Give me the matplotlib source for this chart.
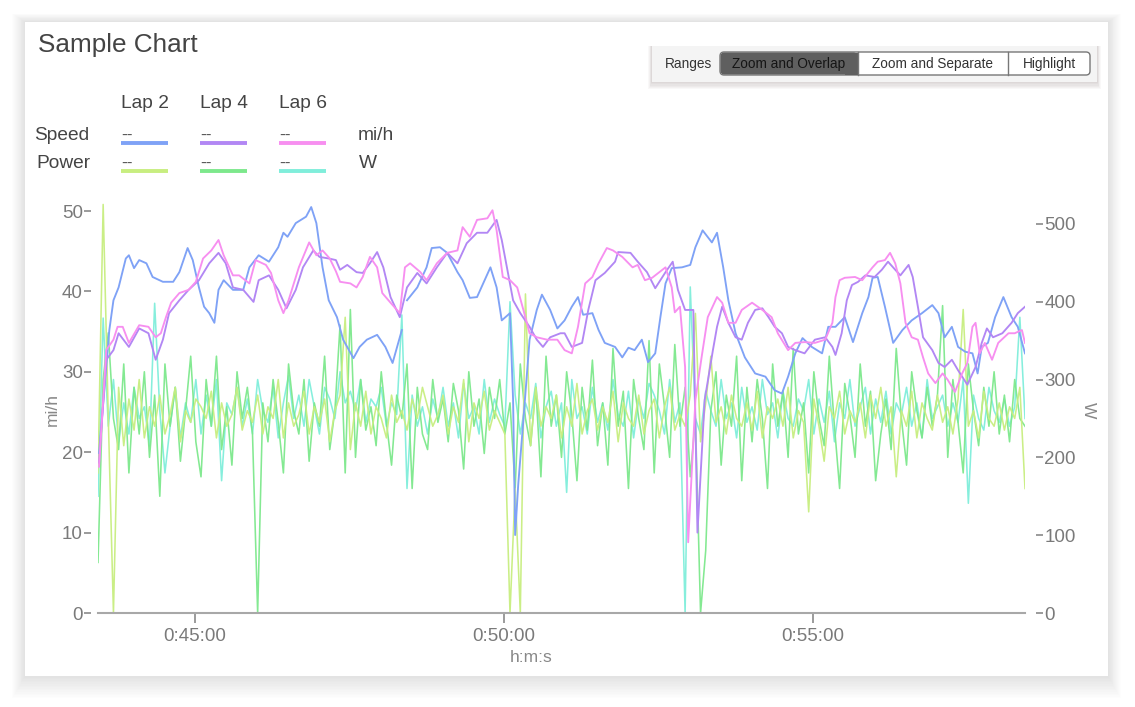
import matplotlib
matplotlib.use("Agg")
import matplotlib.pyplot as plt
import matplotlib.ticker as mticker
from matplotlib.patches import Rectangle, FancyBboxPatch
from matplotlib.lines import Line2D
from matplotlib.transforms import IdentityTransform
import numpy as np

plt.rcParams['font.family'] = ['Liberation Sans', 'DejaVu Sans']

W, H = 1135, 707
nan = np.nan

# laps are overlapped from this point on the h:m:s axis (seconds)
lap_start = 2606
lap_length = 900

laps = ["Lap 2", "Lap 4", "Lap 6"]
speed_colors = ["#7fa2f6", "#b287f4", "#f78ff0"]
power_colors = ["#c8ee80", "#7de88c", "#80eedb"]

# ---- speed (mi/h) with elapsed seconds in lap ----
lap2_speed_t = [1, 8, 11, 15, 20, 27, 30, 35, 40, 47,
                53, 63, 73, 79, 87, 92, 98, 103, 108, 113,
                117, 122, 131, 141, 147, 156, 166, 175, 180, 184,
                192, 202, 207, 212, 218, 224, 232, 238, 248, 254,
                261, 271, 279, 286, 295, 297, 300, 310, 319, 324,
                332, 339, 349, 354, 361, 368, 374, 381, 387, 392,
                400, 403, 405, 408, 412, 419, 426, 431, 439, 446,
                453, 460, 466, 471, 480, 486, 492, 502, 509, 515,
                521, 528, 534, 541, 546, 551, 557, 567, 575, 580,
                587, 596, 601, 607, 612, 619, 628, 638, 648, 657,
                664, 670, 677, 684, 693, 703, 709, 716, 725, 733,
                742, 748, 752, 757, 764, 772, 781, 790, 800, 810,
                816, 822, 829, 835, 842, 849, 854, 858, 864, 871,
                879, 887, 893, 900]
lap2_speed = [19.9, 30.6, 35.2, 38.9, 40.5, 44.1, 44.5, 42.9, 43.9, 43.5,
              41.8, 41.2, 41.2, 42.4, 45.4, 43.9, 40.5, 38.1, 37.3, 36.1,
              40.2, 41.4, 40.2, 40.2, 43.0, 44.5, 43.7, 45.5, 47.3, 46.8,
              48.5, 49.3, 50.5, 48.5, 43.0, 38.9, 36.8, 34.0, 31.7, 33.1,
              34.0, 34.6, 33.1, 31.1, 35.2, nan, 38.9, 40.5, 43.0, 45.4,
              45.5, 44.8, 42.4, 41.4, 39.2, 39.3, 41.0, 43.0, 40.5, 36.4,
              37.3, 26.5, 9.7, 16.0, 22.4, 34.0, 37.7, 39.6, 37.7, 35.4,
              36.4, 38.1, 39.3, 37.1, 37.3, 35.2, 33.6, 33.1, 31.8, 33.0,
              32.7, 34.0, 31.2, 32.3, 36.8, 41.0, 42.9, 43.0, 43.3, 45.5,
              47.6, 46.1, 47.3, 43.0, 38.9, 34.8, 31.8, 29.8, 29.4, 27.7,
              27.3, 29.4, 32.3, 34.2, 33.1, 32.3, 35.6, 35.6, 36.8, 33.7,
              37.3, 39.3, 41.7, 41.8, 38.1, 33.6, 35.2, 36.4, 37.3, 38.3,
              37.3, 34.3, 35.6, 33.1, 32.5, 32.3, 29.8, 33.1, 33.6, 36.8,
              39.3, 36.8, 35.6, 32.3]

lap4_speed_t = [1, 8, 15, 20, 30, 40, 49, 56, 63, 69,
                79, 88, 98, 108, 117, 124, 131, 141, 151, 156,
                166, 175, 183, 192, 199, 209, 215, 224, 231, 235,
                242, 251, 257, 264, 271, 277, 284, 293, 300, 310,
                319, 329, 339, 349, 358, 368, 378, 387, 392, 397,
                403, 410, 419, 426, 432, 439, 449, 453, 460, 470,
                476, 483, 492, 502, 505, 517, 524, 533, 541, 551,
                558, 563, 570, 578, 582, 589, 597, 601, 606, 612,
                619, 625, 631, 638, 645, 651, 657, 664, 670, 677,
                686, 696, 706, 713, 716, 722, 727, 732, 738, 745,
                754, 761, 767, 774, 779, 787, 791, 796, 801, 810,
                816, 822, 829, 835, 844, 852, 858, 863, 869, 878,
                887, 893, 900]
lap4_speed = [18.7, 31.5, 32.7, 34.8, 33.1, 35.4, 34.8, 31.5, 34.0, 37.3,
              38.9, 40.2, 41.4, 43.5, 44.8, 43.5, 40.5, 40.2, 38.7, 41.4,
              42.0, 40.2, 37.9, 40.2, 43.0, 45.1, 44.3, 44.1, 43.9, 42.7,
              43.3, 42.4, 42.3, 43.5, 44.9, 43.0, 39.3, 36.8, 40.5, 42.3,
              41.0, 43.0, 44.8, 43.5, 46.0, 47.3, 47.3, 48.9, 46.4, 43.0,
              38.9, 37.3, 35.6, 34.0, 33.1, 34.3, 34.8, 34.8, 33.1, 33.6,
              37.7, 41.4, 42.3, 43.7, 44.9, 44.8, 43.7, 42.4, 40.4, 42.4,
              43.7, 40.2, 37.7, 37.7, 10.0, 26.5, 32.7, 35.6, 38.1, 36.1,
              34.3, 34.0, 36.1, 37.7, 37.9, 36.8, 35.6, 34.8, 33.1, 32.7,
              32.3, 34.0, 34.3, 33.1, 32.1, 34.8, 38.9, 40.8, 41.2, 42.0,
              41.8, 42.7, 43.7, 42.7, 42.0, 43.3, 41.8, 38.1, 34.3, 32.7,
              31.1, 30.6, 31.5, 30.2, 28.4, 30.6, 33.6, 35.4, 34.3, 34.8,
              36.1, 37.3, 38.1]

lap6_speed_t = [1, 8, 15, 19, 24, 30, 40, 49, 56, 61,
                66, 71, 79, 88, 95, 102, 110, 117, 122, 131,
                137, 147, 153, 163, 168, 175, 180, 185, 195, 205,
                212, 218, 225, 231, 235, 245, 251, 257, 264, 271,
                276, 284, 293, 298, 303, 313, 319, 329, 339, 349,
                354, 361, 368, 378, 383, 387, 393, 400, 407, 413,
                419, 426, 436, 446, 453, 460, 466, 473, 480, 486,
                494, 500, 509, 519, 524, 531, 538, 544, 551, 557,
                560, 565, 570, 573, 580, 586, 592, 601, 606, 612,
                619, 625, 635, 645, 654, 660, 670, 677, 686, 696,
                706, 713, 716, 720, 725, 735, 742, 752, 757, 764,
                769, 774, 779, 784, 790, 796, 801, 806, 813, 820,
                825, 832, 839, 844, 849, 852, 856, 861, 868, 874,
                884, 890, 897, 900]
lap6_speed = [18.2, 32.7, 34.0, 35.6, 35.6, 33.6, 35.8, 35.6, 34.3, 34.8,
              36.8, 38.6, 39.8, 40.2, 41.2, 44.1, 45.1, 46.4, 44.5, 42.0,
              42.0, 41.0, 43.9, 43.3, 42.3, 38.9, 37.3, 38.9, 43.0, 46.1,
              44.5, 45.1, 44.1, 42.5, 41.2, 41.0, 40.5, 41.8, 44.3, 43.0,
              39.8, 38.6, 37.3, 43.0, 43.5, 42.4, 41.4, 43.5, 44.8, 45.1,
              48.0, 46.8, 48.9, 49.1, 50.1, 47.6, 41.8, 41.4, 40.5, 37.7,
              34.8, 34.3, 34.0, 34.0, 32.7, 32.3, 35.6, 41.0, 41.8, 43.5,
              45.4, 45.1, 44.3, 43.0, 43.3, 41.4, 41.7, 42.3, 43.0, 40.5,
              37.4, 38.1, 30.6, 8.8, 26.5, 31.8, 36.8, 39.3, 38.6, 36.1,
              36.1, 37.7, 38.6, 37.7, 36.8, 34.8, 32.7, 33.6, 33.7, 33.6,
              34.0, 36.1, 39.3, 41.4, 41.7, 41.8, 41.4, 43.0, 43.7, 43.9,
              44.8, 43.5, 41.0, 36.1, 34.3, 34.0, 31.8, 29.8, 28.6, 29.8,
              29.0, 27.5, 29.8, 31.1, 35.6, 36.1, 32.3, 33.6, 31.5, 33.6,
              34.8, 34.8, 35.2, 33.6]

# ---- power (W), one reading every 5 s ----
power_step = 5
lap2_power = [180, 525, 250, 0, 290, 215, 275, 235, 300, 225,
              265, 240, 280, 230, 255, 290, 220, 260, 245, 275,
              265, 250, 285, 225, 270, 240, 255, 290, 235,
              260, 245, 280, 230, 265, 250, 300, 225, 270, 240,
              255, 285, 230, 265, 245, 275, 220, 260, 280, 380,
              210, 270, 240, 285, 230, 265, 250, 225, 280, 245,
              260, 235, 275, 250, 290, 265, 240, 255, 280,
              230, 265, 245, 300, 220, 270, 250, 285, 235, 260,
              245, 230, 0, 160, 0, 410, 215, 290, 240, 265,
              250, 280, 225, 265, 240, 295, 230, 260, 275, 235,
              265, 245, 285, 220, 270, 250, 240, 280, 230, 260,
              275, 225, 265, 290, 235, 255, 240, 280, 385,
              220, 270, 330, 245, 265, 230, 280, 250, 240, 270,
              235, 285, 225, 265, 250, 275, 240, 290, 225, 260,
              245, 130, 275, 240, 195, 265, 250, 285, 230, 260,
              245, 270, 225, 280, 250, 290, 240, 265, 175,
              260, 240, 285, 225, 270, 250, 235, 280, 245, 265,
              230, 275, 390, 240, 260, 225, 285, 250, 240, 270,
              235, 265, 250, 290, 160]
lap4_power = [65, 300, 360, 250, 210, 320, 180, 290, 230, 310,
              200, 280, 150, 320, 240, 290, 195, 260, 330, 220,
              175, 300, 240, 330, 210, 265, 190, 310, 250,
              290, 230, 0, 270, 220, 300, 245, 180, 320, 260,
              230, 300, 195, 270, 240, 330, 210, 260, 370, 180,
              390, 200, 300, 235, 265, 215, 310, 245, 190, 280,
              250, 320, 160, 290, 230, 210, 300, 245, 275,
              220, 295, 260, 185, 310, 240, 275, 205, 290, 250,
              300, 230, 270, 160, 320, 250, 215, 290, 175, 330,
              240, 280, 200, 310, 255, 170, 290, 235, 325, 215,
              270, 190, 340, 240, 285, 160, 300, 250, 210, 350,
              180, 320, 265, 200, 345, 240, 290, 175, 250,
              0, 80, 260, 310, 190, 280, 240, 330, 170, 290,
              220, 300, 250, 160, 320, 240, 285, 200, 340, 230,
              270, 180, 310, 250, 215, 330, 240, 160, 295, 255,
              200, 320, 240, 285, 170, 230, 275, 210, 340,
              250, 190, 310, 260, 225, 290, 240, 280, 395, 200,
              300, 245, 180, 320, 260, 215, 290, 240, 310, 230,
              280, 220, 300, 250, 240]
lap6_power = [150, 379, 240, 300, 220, 270, 230, 290, 250, 265,
              215, 398, 260, 180, 240, 290, 225, 270, 245, 300,
              230, 280, 240, 300, 170, 270, 255, 290, 240,
              275, 230, 300, 260, 245, 290, 225, 270, 305, 250,
              280, 240, 300, 265, 230, 290, 275, 250, 310, 270,
              285, 260, 300, 245, 275, 265, 290, 240, 270, 255,
              383, 160, 280, 240, 265, 230, 275, 250, 290,
              240, 270, 225, 295, 250, 265, 230, 300, 245, 275,
              255, 240, 400, 280, 230, 270, 250, 295, 225, 265,
              285, 240, 270, 155, 300, 250, 265, 230, 290, 245,
              270, 235, 300, 255, 240, 285, 225, 275, 250, 295,
              280, 260, 230, 300, 245, 270, 0, 419, 250,
              230, 285, 260, 240, 300, 250, 270, 225, 290, 245,
              265, 235, 300, 255, 270, 225, 285, 250, 240, 275,
              260, 300, 230, 275, 245, 285, 220, 270, 250, 300,
              240, 265, 290, 230, 275, 245, 285, 230, 270,
              255, 290, 240, 270, 225, 300, 250, 265, 280, 240,
              270, 245, 300, 141, 280, 250, 235, 290, 260, 245,
              275, 240, 265, 380, 250]

speed_t = [lap2_speed_t, lap4_speed_t, lap6_speed_t]
speed_v = [lap2_speed, lap4_speed, lap6_speed]
power_v = [lap2_power, lap4_power, lap6_power]


def hms(x, pos=None):
    x = int(round(x))
    return "%d:%02d:%02d" % (x // 3600, (x % 3600) // 60, x % 60)


fig = plt.figure(figsize=(W / 100, H / 100), dpi=100)
fig.patch.set_facecolor("white")
pix = IdentityTransform()

# card with a soft drop shadow
for k in range(14):
    g = 14 - k
    fig.add_artist(Rectangle((25 - g * 0.9, H - 676 - g * 1.6), 1083 + g * 1.8, 654 + g * 2.2,
                             transform=pix, facecolor="black", alpha=0.0065,
                             edgecolor="none", zorder=-30 + k))
fig.add_artist(Rectangle((25, H - 676), 1083, 654, transform=pix,
                         facecolor="white", edgecolor="none", zorder=-10))

# axes, speed on the left scale, power on the right
ax = fig.add_axes([98 / W, (H - 613) / H, 927 / W, 414 / H])
ax2 = ax.twinx()
ax.set_zorder(ax2.get_zorder() + 1)
ax.patch.set_visible(False)

for i in range(3):
    pt = lap_start + np.arange(len(power_v[i])) * power_step
    ax2.plot(pt, power_v[i], color=power_colors[i], lw=1.15, alpha=0.95,
             zorder=4 - i)
for i in range(3):
    ax.plot(lap_start + np.array(speed_t[i]), speed_v[i], color=speed_colors[i],
            lw=1.35, zorder=3)

ax.set_xlim(lap_start, lap_start + lap_length)
ax.set_ylim(0, 51.5)
ax2.set_ylim(0, 532)
ax.set_yticks([0, 10, 20, 30, 40, 50])
ax2.set_yticks([0, 100, 200, 300, 400, 500])
ax.xaxis.set_major_locator(mticker.MultipleLocator(300))
ax.xaxis.set_major_formatter(mticker.FuncFormatter(hms))

for a in (ax, ax2):
    for s in a.spines.values():
        s.set_visible(False)
ax.spines['bottom'].set_visible(True)
ax.spines['bottom'].set_color("#a8a8a8")
ax.spines['bottom'].set_linewidth(1.5)
ax.spines['left'].set_position(('outward', 5))
ax2.spines['right'].set_position(('outward', 8))

for a in (ax, ax2):
    a.tick_params(axis='y', colors="#8a8a8a", labelcolor="#7a7a7a", labelsize=13.5,
                  length=5, width=1.2, pad=1)
ax.tick_params(axis='x', colors="#8a8a8a", labelcolor="#7a7a7a", labelsize=13.5,
               length=7, width=1.2, pad=4)

# axis titles
fig.text(52 / W, 1 - 410 / H, "mi/h", rotation=90, ha="center", va="center",
         fontsize=12.5, color="#888888")
fig.text(1088 / W, 1 - 410 / H, "W", rotation=270, ha="center", va="center",
         fontsize=12.5, color="#888888")
fig.text(531 / W, 1 - 658 / H, "h:m:s", ha="center", va="center",
         fontsize=12.5, color="#888888")

# title
fig.text(38 / W, 1 - 45 / H, "Sample Chart", ha="left", va="center",
         fontsize=18.8, color="#444444")

# legend table
lap_x = [121, 200, 279]
for i, lab in enumerate(laps):
    fig.text(lap_x[i] / W, 1 - 104 / H, lab, ha="left", va="center",
             fontsize=13.8, color="#444444")
    for row_y, line_y, col in ((135, 143, speed_colors[i]), (163, 171, power_colors[i])):
        fig.text(lap_x[i] / W, 1 - row_y / H, "--", ha="left", va="center",
                 fontsize=12.5, color="#555555")
        fig.add_artist(Line2D([lap_x[i], lap_x[i] + 47], [H - line_y, H - line_y],
                              transform=pix, color=col, lw=2.8,
                              solid_capstyle="butt"))
fig.text(34 / W, 1 - 135.5 / H, "Speed", ha="left", va="center", fontsize=13.8, color="#444444")
fig.text(36 / W, 1 - 163.5 / H, "Power", ha="left", va="center", fontsize=13.8, color="#444444")
fig.text(358 / W, 1 - 135.5 / H, "mi/h", ha="left", va="center", fontsize=13.8, color="#444444")
fig.text(359 / W, 1 - 163.5 / H, "W", ha="left", va="center", fontsize=13.8, color="#444444")

# range buttons
for k in range(6):
    g = 6 - k
    fig.add_artist(Rectangle((652 - g * 0.6, H - 82 - g * 1.2), 445 + g * 1.2, 36 + g * 1.2,
                             transform=pix, facecolor="#4a3030", alpha=0.03,
                             edgecolor="none", zorder=5))
fig.add_artist(Rectangle((652, H - 82), 445, 36, transform=pix,
                         facecolor="#f4f4f4", edgecolor="none", zorder=6))
fig.text(689 / W, 1 - 64 / H, "Ranges", ha="center", va="center",
         fontsize=9.8, color="#333333", zorder=8)
fig.add_artist(FancyBboxPatch((720, H - 75), 370, 23,
                              boxstyle="round,pad=0,rounding_size=4", transform=pix,
                              facecolor="white", edgecolor="#777777", lw=1.0, zorder=7))
fig.add_artist(FancyBboxPatch((720.5, H - 74.5), 137, 22,
                              boxstyle="round,pad=0,rounding_size=4", transform=pix,
                              facecolor="#5f5f5f", edgecolor="none", zorder=7.1))
fig.add_artist(Rectangle((845, H - 74.5), 13, 22, transform=pix,
                         facecolor="#5f5f5f", edgecolor="none", zorder=7.2))
for xd in (858, 1008):
    fig.add_artist(Line2D([xd, xd], [H - 75, H - 52], transform=pix,
                          color="#777777", lw=1.0, zorder=7.3))
fig.text(789 / W, 1 - 64 / H, "Zoom and Overlap", ha="center", va="center",
         fontsize=9.8, color="#151515", zorder=8)
fig.text(933 / W, 1 - 64 / H, "Zoom and Separate", ha="center", va="center",
         fontsize=9.8, color="#333333", zorder=8)
fig.text(1049 / W, 1 - 64 / H, "Highlight", ha="center", va="center",
         fontsize=9.8, color="#333333", zorder=8)

fig.savefig("out.png", dpi=100)
